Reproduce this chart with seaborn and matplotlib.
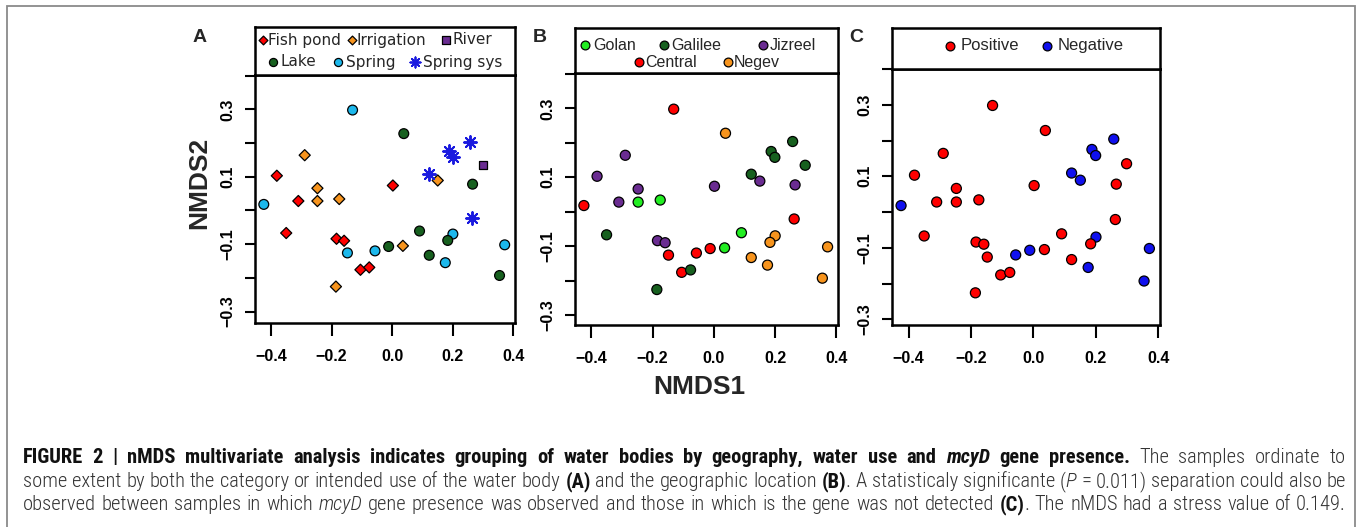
import numpy as np
import pandas as pd
import seaborn as sns
import matplotlib.pyplot as plt
from matplotlib import font_manager
from matplotlib.font_manager import FontProperties
from matplotlib.patches import Rectangle

# NMDS scores, one entry per water sample
nmds1 = [-0.424, -0.381, -0.350, -0.289, -0.310, -0.247, -0.247, -0.175, -0.184, -0.159,
         -0.148, -0.186, -0.131, -0.105, -0.076, -0.057, -0.012, 0.002, 0.035, 0.038,
         0.090, 0.122, 0.150, 0.122, 0.175, 0.187, 0.199, 0.200, 0.183, 0.257,
         0.265, 0.262, 0.298, 0.354, 0.371]
nmds2 = [0.018, 0.103, -0.067, 0.164, 0.028, 0.066, 0.028, 0.034, -0.084, -0.090,
         -0.126, -0.226, 0.298, -0.176, -0.169, -0.120, -0.107, 0.074, -0.105, 0.228,
         -0.061, 0.109, 0.089, -0.133, -0.155, 0.175, 0.158, -0.070, -0.089, 0.204,
         0.078, -0.021, 0.135, -0.193, -0.102]
water_use = ["Spring", "Fish pond", "Fish pond", "Irrigation", "Fish pond", "Irrigation",
             "Irrigation", "Irrigation", "Fish pond", "Fish pond", "Spring", "Irrigation",
             "Spring", "Fish pond", "Fish pond", "Spring", "Lake", "Fish pond", "Irrigation",
             "Lake", "Lake", "Spring sys", "Irrigation", "Lake", "Spring", "Spring sys",
             "Spring sys", "Spring", "Lake", "Spring sys", "Lake", "Spring sys", "River",
             "Lake", "Spring"]
region = ["Central", "Jizreel", "Galilee", "Jizreel", "Jizreel", "Jizreel", "Golan", "Golan",
          "Jizreel", "Jizreel", "Central", "Galilee", "Central", "Central", "Galilee",
          "Central", "Central", "Jizreel", "Golan", "Negev", "Golan", "Galilee", "Jizreel",
          "Negev", "Negev", "Galilee", "Galilee", "Negev", "Negev", "Galilee", "Jizreel",
          "Central", "Galilee", "Negev", "Negev"]
mcyd = ["Negative", "Positive", "Positive", "Positive", "Positive", "Positive", "Positive",
        "Positive", "Positive", "Positive", "Positive", "Positive", "Positive", "Positive",
        "Positive", "Negative", "Negative", "Positive", "Positive", "Positive", "Positive",
        "Negative", "Negative", "Positive", "Negative", "Negative", "Negative", "Negative",
        "Positive", "Negative", "Positive", "Positive", "Positive", "Negative", "Negative"]

water_colors = {"Fish pond": "#ff0000", "Irrigation": "#f7941d", "River": "#6a2c91",
                "Lake": "#17601f", "Spring": "#1cb8ec", "Spring sys": "#1a1adf"}
region_colors = {"Golan": "#22ee22", "Galilee": "#17601f", "Jizreel": "#6a2c91",
                 "Central": "#ff0000", "Negev": "#f7941d"}
mcyd_colors = {"Positive": "#ff0000", "Negative": "#1010ee"}

df = pd.DataFrame({"nmds1": nmds1, "nmds2": nmds2, "water": water_use,
                   "region": region, "mcyd": mcyd})

sns.set_style("ticks")
plt.rcParams["font.family"] = ["Liberation Sans", "DejaVu Sans"]

W, H = 1357, 527
fig = plt.figure(figsize=(W / 100, H / 100), dpi=100, facecolor="white")


def px_rect(x0, y0, x1, y1):
    return [x0 / W, 1 - y1 / H, (x1 - x0) / W, (y1 - y0) / H]


def style_plot(ax, ylim):
    ax.set_xlim(-0.453, 0.405)
    ax.set_ylim(*ylim)
    ax.set_xlabel("")
    ax.set_ylabel("")
    for sp in ax.spines.values():
        sp.set_visible(True)
        sp.set_linewidth(1.8)
        sp.set_color("black")
    ax.set_xticks([-0.4, -0.2, 0.0, 0.2, 0.4])
    ax.set_xticklabels(["\u22120.4", "\u22120.2", "0.0", "0.2", "0.4"])
    ax.set_yticks(np.round(np.arange(-0.3, 0.41, 0.1), 1))
    ax.set_yticklabels(["\u22120.3", "", "\u22120.1", "", "0.1", "", "0.3", ""])
    ax.tick_params(axis="x", length=9, width=1.5, pad=10, labelsize=11.5, colors="black")
    ax.tick_params(axis="y", length=7, width=1.5, pad=7, labelsize=11.5, colors="black",
                   labelrotation=90)
    for lab in ax.get_xticklabels() + ax.get_yticklabels():
        lab.set_fontweight("bold")
    for lab in ax.get_yticklabels():
        lab.set_va("center")


def legend_axes(x0, y0, x1, y1):
    lax = fig.add_axes(px_rect(x0, y0, x1, y1))
    lax.set_xlim(x0, x1)
    lax.set_ylim(y1, y0)
    lax.set_xticks([])
    lax.set_yticks([])
    for sp in lax.spines.values():
        sp.set_visible(True)
        sp.set_linewidth(1.8)
        sp.set_color("black")
    return lax


# ---------------- panel A: water body type ----------------
axA = fig.add_axes(px_rect(255, 75, 515, 323))
circ = df[df.water.isin(["Lake", "Spring"])]
dia = df[df.water.isin(["Fish pond", "Irrigation"])]
riv = df[df.water == "River"]
sys_ = df[df.water == "Spring sys"]
sns.scatterplot(data=dia, x="nmds1", y="nmds2", hue="water", palette=water_colors,
                marker="D", s=32, edgecolor="black", linewidth=0.9, legend=False, ax=axA)
sns.scatterplot(data=circ, x="nmds1", y="nmds2", hue="water", palette=water_colors,
                marker="o", s=50, edgecolor="black", linewidth=0.9, legend=False, ax=axA)
sns.scatterplot(data=riv, x="nmds1", y="nmds2", hue="water", palette=water_colors,
                marker="s", s=38, edgecolor="black", linewidth=0.9, legend=False, ax=axA)
sns.scatterplot(data=sys_, x="nmds1", y="nmds2", color=water_colors["Spring sys"],
                marker=(8, 2, 0), s=85, linewidth=1.4, legend=False, ax=axA)
style_plot(axA, (-0.334, 0.402))
axA.set_ylabel("NMDS2", fontsize=19, fontweight="bold")
axA.yaxis.set_label_coords(-0.168, 0.565)

legA = legend_axes(255, 27, 515, 75)
lf = {"family": "DejaVu Sans", "fontsize": 11, "va": "center"}
for name, mk, sz, mx, tx, y in [("Fish pond", "D", 20, 263, 268, 40),
                                ("Irrigation", "D", 20, 352, 357, 40),
                                ("River", "s", 26, 446, 453, 40),
                                ("Lake", "o", 34, 273, 280, 62),
                                ("Spring", "o", 34, 338, 346, 62)]:
    legA.scatter([mx], [y], marker=mk, s=sz, color=water_colors[name],
                 edgecolor="black", linewidth=0.9)
    legA.text(tx, y, name, **lf)
legA.scatter([415], [62], marker=(8, 2, 0), s=55, color=water_colors["Spring sys"],
             linewidth=1.3)
legA.text(423, 62, "Spring sys", **lf)

# ---------------- panel B: geographic location ----------------
axB = fig.add_axes(px_rect(575, 73, 838, 325))
sns.scatterplot(data=df, x="nmds1", y="nmds2", hue="region", palette=region_colors,
                marker="o", s=52, edgecolor="black", linewidth=0.9, legend=False, ax=axB)
style_plot(axB, (-0.329, 0.403))

legB = legend_axes(575, 28, 838, 73)
for name, mx, tx, y in [("Golan", 585, 593, 45), ("Galilee", 664, 671, 45),
                        ("Jizreel", 763, 770, 45), ("Central", 639, 645, 62),
                        ("Negev", 728, 734, 62)]:
    legB.scatter([mx], [y], marker="o", s=40, color=region_colors[name],
                 edgecolor="black", linewidth=0.9)
    legB.text(tx, y, name, fontsize=11.5, va="center")

# ---------------- panel C: mcyD presence ----------------
axC = fig.add_axes(px_rect(892, 69, 1160, 325))
sns.scatterplot(data=df, x="nmds1", y="nmds2", hue="mcyd", palette=mcyd_colors,
                marker="o", s=52, edgecolor="black", linewidth=0.9, legend=False, ax=axC)
style_plot(axC, (-0.316, 0.40))

legC = legend_axes(892, 28, 1160, 69)
for name, mx, tx in [("Positive", 950, 961), ("Negative", 1047, 1058)]:
    legC.scatter([mx], [46], marker="o", s=40, color=mcyd_colors[name],
                 edgecolor="black", linewidth=0.9)
    legC.text(tx, 46, name, fontsize=12, va="center")

# panel letters and shared x label
for letter, x in [("A", 200), ("B", 540), ("C", 856)]:
    fig.text(x / W, 1 - 38 / H, letter, fontsize=14, fontweight="bold",
             ha="center", va="center")
fig.text(699 / W, 1 - 387 / H, "NMDS1", fontsize=19, fontweight="bold",
         ha="center", va="center")

# outer frame of the figure panel
fig.add_artist(Rectangle((7 / W, -0.05), 1348 / W, 1 - 6 / H + 0.05,
                         transform=fig.transFigure, fill=False,
                         edgecolor="#8a8a8a", linewidth=1.3, clip_on=False))

# ---------------- caption (justified lines) ----------------
names = {f.name for f in font_manager.fontManager.ttflist}
cap_family = "Liberation Sans"
for cand in ["Liberation Sans Narrow", "Roboto Condensed"]:
    if cand in names:
        cap_family = cand
        break
LIGHT = "light" if cap_family == "Roboto Condensed" else "normal"

caption = [
    [("FIGURE 2 | nMDS multivariate analysis indicates grouping of water bodies by geography, "
      "water use and ", "bold", "normal"), ("mcyD", "bold", "italic"),
     (" gene presence.", "bold", "normal"), (" The samples ordinate to", LIGHT, "normal")],
    [("some extent by both the category or intended use of the water body ", LIGHT, "normal"),
     ("(A)", "bold", "normal"), (" and the geographic location ", LIGHT, "normal"),
     ("(B)", "bold", "normal"), (". A statisticaly significante (", LIGHT, "normal"),
     ("P", LIGHT, "italic"), (" = 0.011) separation could also be", LIGHT, "normal")],
    [("observed between samples in which ", LIGHT, "normal"), ("mcyD", LIGHT, "italic"),
     (" gene presence was observed and those in which is the gene was not detected ",
      LIGHT, "normal"), ("(C)", "bold", "normal"),
     (". The nMDS had a stress value of 0.149.", LIGHT, "normal")],
]
baselines = [463, 487, 510]
x_left, x_right = 23, 1346
renderer = fig.canvas.get_renderer()


def tokenize(pieces):
    out = []
    prev_space = True
    for text, weight, style in pieces:
        for i, w in enumerate(text.split(" ")):
            if w == "":
                continue
            glue = bool(out) and i == 0 and not prev_space
            out.append([w, weight, style, glue])
        prev_space = text.endswith(" ")
    return out


def width(s, weight, style, size):
    fp = FontProperties(family=cap_family, weight=weight, style=style, size=size)
    return renderer.get_text_width_height_descent(s, fp, ismath=False)[0]


lines = [tokenize(p) for p in caption]
base = 10.0
space = width("a a", LIGHT, "normal", base) - width("aa", LIGHT, "normal", base)
fits = []
for toks in lines:
    ww = sum(width(t[0], t[1], t[2], base) for t in toks)
    gaps = sum(1 for t in toks[1:] if not t[3])
    fits.append(base * (x_right - x_left) / (ww + gaps * space) * 0.995)
size_reg = min(fits[1:])
sizes = [min(size_reg, fits[0]), size_reg, size_reg]

for toks, yb, size in zip(lines, baselines, sizes):
    ws = [width(t[0], t[1], t[2], size) for t in toks]
    gaps = sum(1 for t in toks[1:] if not t[3])
    gap = (x_right - x_left - sum(ws)) / max(gaps, 1)
    x = x_left
    for k, (t, w) in enumerate(zip(toks, ws)):
        if k > 0 and not t[3]:
            x += gap
        fig.text(x / W, 1 - yb / H, t[0], family=cap_family, fontweight=t[1],
                 fontstyle=t[2], fontsize=size, va="baseline", ha="left",
                 color="#111111" if t[1] == "bold" else "#333333")
        x += w

fig.savefig("out.png", dpi=100, facecolor="white")
